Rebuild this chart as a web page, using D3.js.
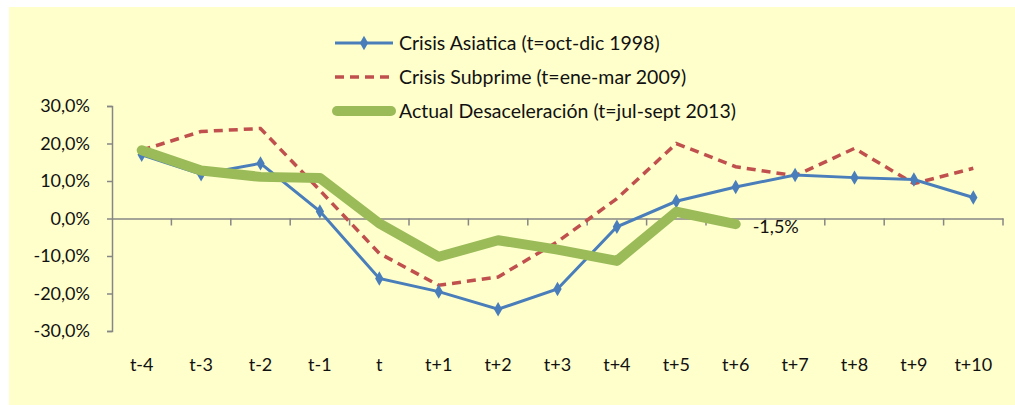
<!DOCTYPE html>
<html>
<head>
<meta charset="utf-8">
<script src="https://cdn.jsdelivr.net/npm/d3@7"></script>
<style>
  body { margin: 0; background: #fff; }
  text { font-family: Lato, "Open Sans", sans-serif; fill: #111; }
</style>
</head>
<body>
<svg id="chart" width="1015" height="405"></svg>
<script>
const categories = ['t-4', 't-3', 't-2', 't-1', 't', 't+1', 't+2', 't+3', 't+4', 't+5', 't+6', 't+7', 't+8', 't+9', 't+10'];
const asiatica = [17.0, 11.8, 14.7, 1.9, -16.0, -19.5, -24.2, -18.8, -2.2, 4.6, 8.4, 11.6, 10.9, 10.4, 5.6];
const subprime = [18.2, 23.2, 24.0, 7.5, -9.3, -17.8, -15.6, -6.2, 5.3, 20.0, 13.8, 11.4, 18.7, 9.3, 13.4];
const actual = [18.2, 12.8, 11.1, 10.8, -1.3, -10.2, -5.8, -8.3, -11.3, 1.8, -1.5];
const yTicks = [-30, -20, -10, 0, 10, 20, 30];
const legendLabels = ['Crisis Asiatica (t=oct-dic 1998)', 'Crisis Subprime (t=ene-mar 2009)', 'Actual Desaceleración (t=jul-sept 2013)'];

const svg = d3.select('#chart');
const axisColor = '#868686';

svg.append('rect')
  .attr('x', 9).attr('y', 7)
  .attr('width', 1006).attr('height', 398)
  .attr('fill', '#FFFFCC');

const x = d3.scaleBand().domain(categories).range([112, 1003]);
const y = d3.scaleLinear().domain([-30, 30]).range([331, 106]);
const fmt = (v) => v.toFixed(1).replace('.', ',') + '%';

// y axis
const yAxis = svg.append('g')
  .attr('transform', 'translate(112,0)')
  .call(d3.axisLeft(y).tickValues(yTicks).tickSize(5).tickPadding(17).tickFormat(fmt));
yAxis.select('.domain').attr('stroke', axisColor).attr('stroke-width', 1.5);
yAxis.selectAll('.tick line').attr('stroke', axisColor).attr('stroke-width', 1.5);
yAxis.selectAll('.tick text').style('font-size', '18px').attr('fill', '#111');

// x axis along zero
const xAxis = svg.append('g')
  .attr('transform', `translate(0,${y(0)})`)
  .call(d3.axisBottom(x).tickSize(0).tickFormat(''));
xAxis.select('.domain').attr('stroke', axisColor).attr('stroke-width', 1.5);
xAxis.selectAll('.boundary')
  .data(categories.map((c) => x(c) + x.bandwidth()))
  .join('line')
  .attr('x1', (d) => d).attr('x2', (d) => d)
  .attr('y1', 0).attr('y2', 7)
  .attr('stroke', axisColor).attr('stroke-width', 1.5);

svg.append('g').selectAll('text')
  .data(categories)
  .join('text')
  .attr('x', (d) => x(d) + x.bandwidth() / 2)
  .attr('y', 371)
  .attr('text-anchor', 'middle')
  .style('font-size', '18px')
  .text((d) => d);

const cx = (i) => x(categories[i]) + x.bandwidth() / 2;
const line = d3.line().x((d, i) => cx(i)).y((d) => y(d));

svg.append('path').datum(subprime)
  .attr('d', line)
  .attr('fill', 'none').attr('stroke', '#C0504D')
  .attr('stroke-width', 3.5).attr('stroke-dasharray', '9,6');

svg.append('path').datum(asiatica)
  .attr('d', line)
  .attr('fill', 'none').attr('stroke', '#4A7EBB')
  .attr('stroke-width', 3);

const diamond = d3.symbol().type(d3.symbolDiamond).size(60);
svg.append('g').selectAll('path')
  .data(asiatica)
  .join('path')
  .attr('d', diamond)
  .attr('transform', (d, i) => `translate(${cx(i)},${y(d)})`)
  .attr('fill', '#4A7EBB');

svg.append('path').datum(actual)
  .attr('d', line)
  .attr('fill', 'none').attr('stroke', '#9BBB59')
  .attr('stroke-width', 10).attr('stroke-linecap', 'round').attr('stroke-linejoin', 'round');

const last = actual.length - 1;
svg.append('text')
  .attr('x', cx(last) + 17)
  .attr('y', y(actual[last]) + 9)
  .style('font-size', '18px')
  .text(fmt(actual[last]));

// legend
const legend = svg.append('g');
const rows = [43, 77, 111];
legend.append('line').attr('x1', 335).attr('x2', 393).attr('y1', rows[0]).attr('y2', rows[0])
  .attr('stroke', '#4A7EBB').attr('stroke-width', 3);
legend.append('path').attr('d', diamond).attr('transform', `translate(364,${rows[0]})`).attr('fill', '#4A7EBB');
legend.append('line').attr('x1', 335).attr('x2', 393).attr('y1', rows[1]).attr('y2', rows[1])
  .attr('stroke', '#C0504D').attr('stroke-width', 3.5).attr('stroke-dasharray', '9,6');
legend.append('line').attr('x1', 337).attr('x2', 391).attr('y1', rows[2]).attr('y2', rows[2])
  .attr('stroke', '#9BBB59').attr('stroke-width', 10).attr('stroke-linecap', 'round');
legend.selectAll('text')
  .data(legendLabels)
  .join('text')
  .attr('x', 399)
  .attr('y', (d, i) => rows[i] + 7)
  .style('font-size', '19.5px')
  .text((d) => d);
</script>
</body>
</html>
